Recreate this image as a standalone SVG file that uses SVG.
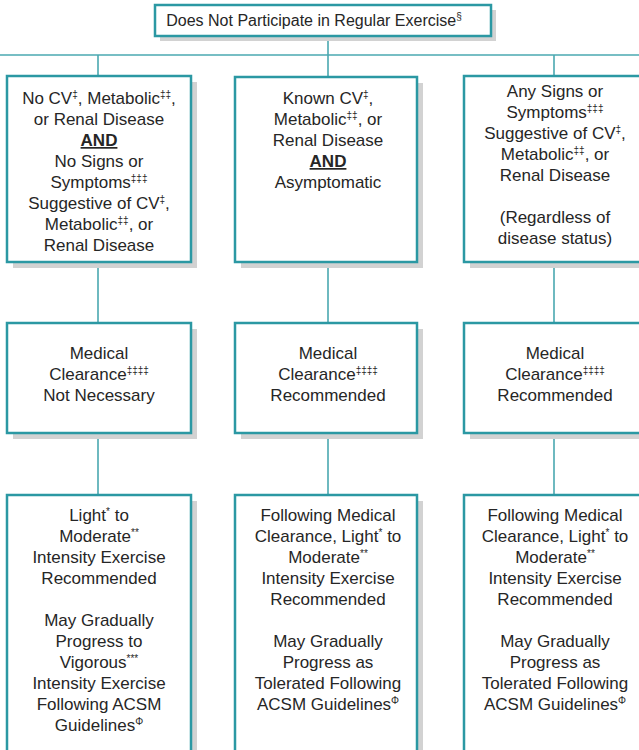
<svg xmlns="http://www.w3.org/2000/svg" width="639" height="750" viewBox="0 0 639 750">
<style>
.box{fill:#fff;stroke:#2b98a3;stroke-width:2.5}
.sh{fill:#d2d2d2}
.ln{stroke:#4aa8b0;stroke-width:1.6;fill:none}
text{font-family:"Liberation Sans",Arial,sans-serif;font-size:17px;fill:#262626;text-anchor:middle}
.t{font-size:16px}
.s{font-size:10px}
.b{font-weight:bold;text-decoration:underline}
</style>
<g id="connectors">
<line class="ln" x1="328" y1="36" x2="328" y2="55"/>
<line class="ln" x1="0" y1="55" x2="639" y2="55"/>
<line class="ln" x1="98" y1="55" x2="98" y2="76"/>
<line class="ln" x1="328" y1="55" x2="328" y2="77"/>
<line class="ln" x1="554" y1="55" x2="554" y2="76"/>
<line class="ln" x1="98" y1="262" x2="98" y2="323"/>
<line class="ln" x1="328" y1="262" x2="328" y2="323"/>
<line class="ln" x1="554" y1="262" x2="554" y2="323"/>
<line class="ln" x1="98" y1="433" x2="98" y2="495"/>
<line class="ln" x1="328" y1="433" x2="328" y2="495"/>
<line class="ln" x1="554" y1="433" x2="554" y2="495"/>
</g>
<g id="top">
<rect class="sh" x="160" y="10" width="336" height="31"/>
<rect class="box" x="155" y="5" width="336" height="31"/>
<text class="t" x="314" y="26">Does Not Participate in Regular Exercise<tspan class="s" dy="-6">§</tspan></text>
</g>
<g id="c1r1">
<rect class="sh" x="13" y="82" width="184" height="186"/>
<rect class="box" x="7" y="76" width="184" height="186"/>
<text x="99" y="104">No CV<tspan class="s" dy="-6">‡</tspan><tspan dy="6">, Metabolic</tspan><tspan class="s" dy="-6">‡‡</tspan><tspan dy="6">,</tspan></text>
<text x="99" y="125">or Renal Disease</text>
<text x="99" y="146" class="b">AND</text>
<text x="99" y="167">No Signs or</text>
<text x="99" y="188">Symptoms<tspan class="s" dy="-6">‡‡‡</tspan></text>
<text x="99" y="209">Suggestive of CV<tspan class="s" dy="-6">‡</tspan><tspan dy="6">,</tspan></text>
<text x="99" y="230">Metabolic<tspan class="s" dy="-6">‡‡</tspan><tspan dy="6">, or</tspan></text>
<text x="99" y="251">Renal Disease</text>
</g>
<g id="c2r1">
<rect class="sh" x="241" y="83" width="182" height="185"/>
<rect class="box" x="235" y="77" width="182" height="185"/>
<text x="328" y="104">Known CV<tspan class="s" dy="-6">‡</tspan><tspan dy="6">,</tspan></text>
<text x="328" y="125">Metabolic<tspan class="s" dy="-6">‡‡</tspan><tspan dy="6">, or</tspan></text>
<text x="328" y="146">Renal Disease</text>
<text x="328" y="167" class="b">AND</text>
<text x="328" y="188">Asymptomatic</text>
</g>
<g id="c3r1">
<rect class="sh" x="470" y="82" width="184" height="186"/>
<rect class="box" x="464" y="76" width="184" height="186"/>
<text x="555" y="97">Any Signs or</text>
<text x="555" y="118">Symptoms<tspan class="s" dy="-6">‡‡‡</tspan></text>
<text x="555" y="139">Suggestive of CV<tspan class="s" dy="-6">‡</tspan><tspan dy="6">,</tspan></text>
<text x="555" y="160">Metabolic<tspan class="s" dy="-6">‡‡</tspan><tspan dy="6">, or</tspan></text>
<text x="555" y="181">Renal Disease</text>
<text x="555" y="223">(Regardless of</text>
<text x="555" y="244">disease status)</text>
</g>
<g id="c1r2">
<rect class="sh" x="13" y="329" width="184" height="110"/>
<rect class="box" x="7" y="323" width="184" height="110"/>
<text x="99" y="359">Medical</text>
<text x="99" y="380">Clearance<tspan class="s" dy="-6">‡‡‡‡</tspan></text>
<text x="99" y="401">Not Necessary</text>
</g>
<g id="c2r2">
<rect class="sh" x="241" y="329" width="182" height="110"/>
<rect class="box" x="235" y="323" width="182" height="110"/>
<text x="328" y="359">Medical</text>
<text x="328" y="380">Clearance<tspan class="s" dy="-6">‡‡‡‡</tspan></text>
<text x="328" y="401">Recommended</text>
</g>
<g id="c3r2">
<rect class="sh" x="470" y="329" width="184" height="110"/>
<rect class="box" x="464" y="323" width="184" height="110"/>
<text x="555" y="359">Medical</text>
<text x="555" y="380">Clearance<tspan class="s" dy="-6">‡‡‡‡</tspan></text>
<text x="555" y="401">Recommended</text>
</g>
<g id="c1r3">
<rect class="sh" x="13" y="501" width="184" height="260"/>
<rect class="box" x="7" y="495" width="184" height="260"/>
<text x="99" y="521">Light<tspan class="s" dy="-6">*</tspan><tspan dy="6"> to</tspan></text>
<text x="99" y="542">Moderate<tspan class="s" dy="-6">**</tspan></text>
<text x="99" y="563">Intensity Exercise</text>
<text x="99" y="584">Recommended</text>
<text x="99" y="626">May Gradually</text>
<text x="99" y="647">Progress to</text>
<text x="99" y="668">Vigorous<tspan class="s" dy="-6">***</tspan></text>
<text x="99" y="689">Intensity Exercise</text>
<text x="99" y="710">Following ACSM</text>
<text x="99" y="731">Guidelines<tspan class="s" dy="-6">Φ</tspan></text>
</g>
<g id="c2r3">
<rect class="sh" x="241" y="501" width="182" height="260"/>
<rect class="box" x="235" y="495" width="182" height="260"/>
<text x="328" y="521">Following Medical</text>
<text x="328" y="542">Clearance, Light<tspan class="s" dy="-6">*</tspan><tspan dy="6"> to</tspan></text>
<text x="328" y="563">Moderate<tspan class="s" dy="-6">**</tspan></text>
<text x="328" y="584">Intensity Exercise</text>
<text x="328" y="605">Recommended</text>
<text x="328" y="647">May Gradually</text>
<text x="328" y="668">Progress as</text>
<text x="328" y="689">Tolerated Following</text>
<text x="328" y="710">ACSM Guidelines<tspan class="s" dy="-6">Φ</tspan></text>
</g>
<g id="c3r3">
<rect class="sh" x="470" y="501" width="184" height="260"/>
<rect class="box" x="464" y="495" width="184" height="260"/>
<text x="555" y="521">Following Medical</text>
<text x="555" y="542">Clearance, Light<tspan class="s" dy="-6">*</tspan><tspan dy="6"> to</tspan></text>
<text x="555" y="563">Moderate<tspan class="s" dy="-6">**</tspan></text>
<text x="555" y="584">Intensity Exercise</text>
<text x="555" y="605">Recommended</text>
<text x="555" y="647">May Gradually</text>
<text x="555" y="668">Progress as</text>
<text x="555" y="689">Tolerated Following</text>
<text x="555" y="710">ACSM Guidelines<tspan class="s" dy="-6">Φ</tspan></text>
</g>
</svg>
